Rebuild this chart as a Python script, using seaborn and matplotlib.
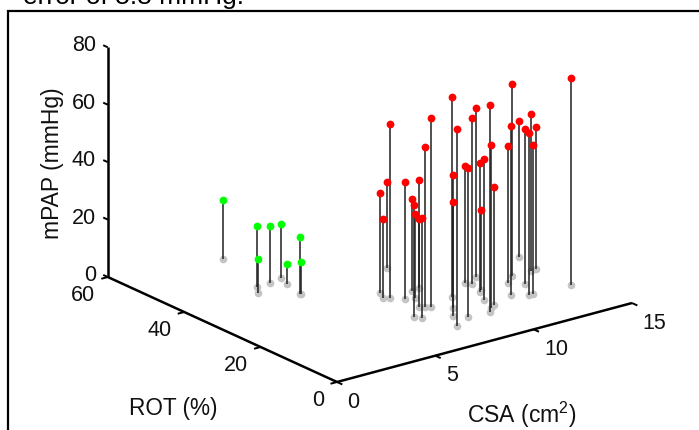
import matplotlib
matplotlib.use("Agg")
import matplotlib.pyplot as plt
from matplotlib.lines import Line2D
from mpl_toolkits.mplot3d import proj3d
import seaborn as sns

# Data
csa_green = [4.98, 4.10, 3.72, 4.80, 5.50, 5.25, 4.98, 5.02]
rot_green = [55.5, 42.1, 39.8, 42.3, 43.0, 40.2, 35.3, 35.2]
map_green = [20.3, 21.1, 11.9, 19.7, 18.9, 7.1, 19.9, 11.2]

csa_red = [7.57, 9.56, 7.96, 9.19, 8.10, 8.29, 9.64, 8.87, 8.36, 7.78, 11.19, 11.81,
           11.01, 8.78, 10.86, 7.61, 7.34, 8.78, 7.06, 8.36, 7.90, 7.22, 11.03, 9.83,
           10.12, 10.46, 10.42, 13.05, 11.67, 12.42, 14.57, 12.87, 12.26, 14.02, 12.48,
           14.27, 14.29]
rot_red = [25.0, 36.2, 23.3, 25.9, 18.7, 18.1, 19.4, 15.4, 12.7, 8.6, 22.3, 24.3,
           23.3, 10.9, 18.6, 27.8, 25.7, 25.7, 16.1, 22.6, 19.2, 15.0, 19.1, 10.6,
           11.8, 15.4, 12.6, 21.5, 14.6, 19.2, 27.4, 17.1, 12.8, 21.4, 12.9,
           21.4, 12.4]
map_red = [60.6, 29.9, 40.7, 37.7, 55.5, 65.7, 69.6, 46.3, 39.7, 68.7, 57.7, 58.8,
           41.0, 51.9, 45.1, 34.8, 27.7, 31.8, 38.8, 29.4, 30.6, 34.9, 27.9, 72.1,
           56.9, 49.0, 41.1, 66.6, 59.0, 47.6, 47.6, 54.1, 56.6, 54.7, 51.9,
           49.7, 72.0]

csa_ticks = [0, 5, 10, 15]
rot_ticks = [0, 20, 40, 60]
map_ticks = [0, 20, 40, 60, 80]

W, H = 699, 430
sns.set_theme(style="white")
plt.rcParams["font.family"] = "Liberation Sans"
plt.rcParams["mathtext.default"] = "regular"
red, green, grey = sns.color_palette(["#ff0000", "#00ff00", "#c4c4c4"])

fig = plt.figure(figsize=(W / 100, H / 100), dpi=100)
ax = fig.add_axes([0, 0, 1, 1], projection="3d", proj_type="ortho", computed_zorder=False)
ax.view_init(elev=20.5, azim=-127.4)
ax.set_xlim(0, 15, view_margin=0)
ax.set_ylim(0, 60, view_margin=0)
ax.set_zlim(0, 80, view_margin=0)
box = (371, 377, 245)
ax.set_box_aspect(box)
ax.set_axis_off()


def px(x, y, z):
    xp, yp, _ = proj3d.proj_transform(x, y, z, ax.get_proj())
    return ax.transData.transform((xp, yp))


# fit the box onto the spot it has in the picture
fig.canvas.draw()
scale = 295 / (px(15, 0, 0)[0] - px(0, 0, 0)[0])
ax.set_box_aspect(box, zoom=scale)
fig.canvas.draw()
o = px(0, 0, 0)
ax.set_position([(337 - o[0]) / W, (H - 382 - o[1]) / H, 1, 1])
fig.canvas.draw()


def line3(xs, ys, zs, lw=1.8, color="black", z=2):
    ax.plot(xs, ys, zs, color=color, lw=lw, zorder=z, clip_on=False, solid_capstyle="butt")


# axes
line3([0, 15], [0, 0], [0, 0])
line3([0, 0], [0, 60], [0, 0])
line3([0, 0], [60, 60], [0, 80])
for t in csa_ticks:
    line3([t, t], [0, -1.4], [0, 0], lw=1.4)
for t in rot_ticks:
    line3([0, -0.33], [t, t], [0, 0], lw=1.4)
for t in map_ticks:
    line3([0, 0], [60, 61.2], [t, t], lw=1.4)

# stems
for xs, ys, zs, col in [(csa_green, rot_green, map_green, green), (csa_red, rot_red, map_red, red)]:
    ax.plot(xs, ys, [0] * len(xs), ls="none", marker="o", ms=5.5, color=grey, mew=0, zorder=3, clip_on=False)
    for x, y, v in zip(xs, ys, zs):
        line3([x, x], [y, y], [0, v], lw=1.1, color="#202020", z=4)
    ax.plot(xs, ys, zs, ls="none", marker="o", ms=5.6, color=col, mew=0, zorder=5, clip_on=False)


def label(x, y, s, **kw):
    kw.setdefault("fontsize", 15.5)
    kw.setdefault("ha", "center")
    kw.setdefault("va", "center")
    fig.text(x / W, y / H, s, color="#111111", **kw)


for t in csa_ticks:
    p = px(t, 0, 0)
    label(p[0] + 10.5, p[1] - 20, str(t), ha="left")
for t in rot_ticks:
    p = px(0, t, 0)
    label(p[0] - 13, p[1] - 18.5, str(t), ha="right")
for t in map_ticks:
    p = px(0, 60, t)
    label(p[0] - 12, p[1] + 1.5, str(t), ha="right")

label(53, H - 163, "mPAP (mmHg)", rotation=90, fontsize=16.5)
label(173, H - 408, "ROT (%)", fontsize=16.3)
label(522, H - 415, "CSA (cm$^{2}$)", fontsize=16.5)

# surrounding frame and the cut off line above it
fig.add_artist(Line2D([8 / W, 8 / W, 1], [0, 1 - 11 / H, 1 - 11 / H], color="black", lw=1.6,
                      transform=fig.transFigure, solid_joinstyle="miter"))
fig.text(23 / W, 1 - 4 / H, "error of 5.8 mmHg.", fontsize=19, color="black", ha="left", va="baseline")

fig.savefig("out.png", dpi=100)
